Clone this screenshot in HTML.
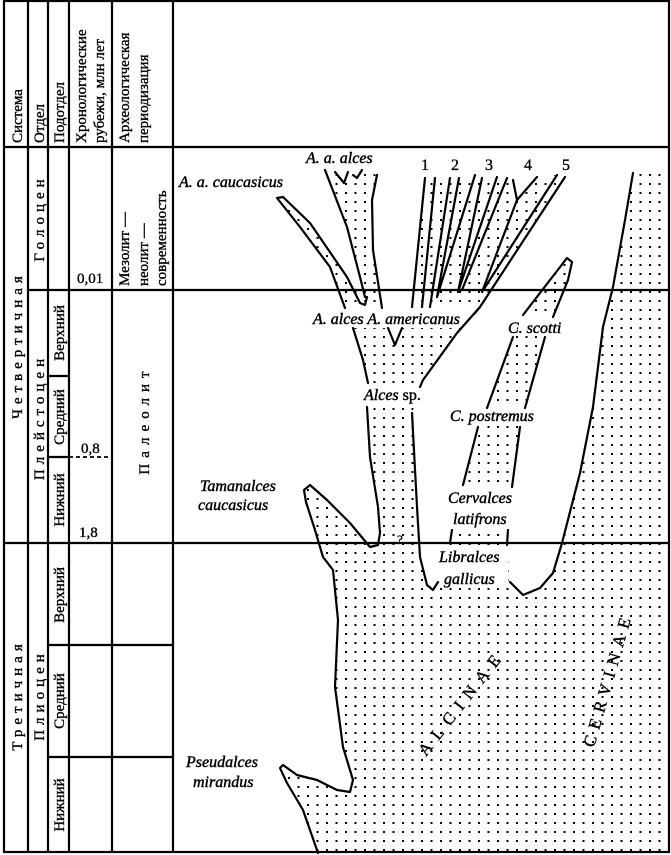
<!DOCTYPE html>
<html><head><meta charset="utf-8"><style>
html,body{margin:0;padding:0;background:#fff}
svg{display:block}
.s{font-family:"Liberation Serif","DejaVu Serif",serif;fill:#000;stroke:#000;stroke-width:0.35}
.i{font-family:"Liberation Serif",serif;font-style:italic;font-size:16px;fill:#000;stroke:#000;stroke-width:0.45}
.l{fill:none;stroke:#000;stroke-width:2.2;stroke-linejoin:round;stroke-linecap:round}
</style></head><body>
<svg width="671" height="855" viewBox="0 0 671 855" xmlns="http://www.w3.org/2000/svg">
<defs>
<pattern id="d" width="9.5" height="9" patternUnits="userSpaceOnUse"><rect x="3" y="3" width="2" height="2" fill="#000"/></pattern>
</defs>
<rect width="671" height="855" fill="#fff"/>
<g fill="url(#d)">
<path d="M367,407 L370,457 L378,507 L380,533 L378,545 L370,547 L350,523 L327,500 L310,485 L304,490 L306,502 L315,530 L323,557 L333,570 L338,620 L335,687 L343,747 L353,780 L350,792 L337,790 L317,780 L297,775 L283,765 L280,768 L287,783 L303,810 L318,853 L669,853 L669,173 L633,173 L625,220 L613,287 L603,327 L593,407 L580,473 L562,543 L553,573 L540,588 L523,595 L510,585 L507,545 L512,487 L525,408 L545,337 L553,317 L568,280 L572,262 L567,258 L550,280 L523,315 L513,337 L487,408 L463,485 L450,543 L435,583 L427,585 L420,557 L417,507 L412,413 L423,380 L457,333 L480,307 L565,177 L557,175 L537,177 L517,200 L513,177 L497,177 L482,178 L459,178 L450,178 L435,178 L425,178 L412,307 L402,328 L395,345 L388,328 L382,308 L373,250 L372,200 L377,175 L362,170 L357,178 L353,175 L348,172 L344,183 L335,172 L325,170 L347,227 L360,277 L365,305 L357,303 L353,328 L363,360 L368,383 Z"/>
<path d="M277,198 L300,227 L330,267 L345,308 L360,303 L365,305 L347,277 L310,223 L283,197 Z"/>
</g>
<g fill="#fff">
<rect x="312" y="306" width="186" height="22"/>
<rect x="364" y="384" width="70" height="20"/>
<rect x="450" y="405" width="102" height="20"/>
<rect x="446" y="487" width="82" height="42"/>
<rect x="438" y="546" width="70" height="40"/>
<rect x="518" y="313" width="56" height="22"/>
<rect x="412" y="636" width="108" height="124" transform="rotate(-52 466 698)" opacity="0"/>
</g>
<g stroke="#000" stroke-width="2.2" fill="none">
<rect x="4" y="1" width="665" height="851"/>
<line x1="28" y1="1" x2="28" y2="852"/>
<line x1="48" y1="1" x2="48" y2="852"/>
<line x1="69" y1="1" x2="69" y2="852"/>
<line x1="112" y1="1" x2="112" y2="852"/>
<line x1="173" y1="1" x2="173" y2="852"/>
<line x1="4" y1="147" x2="669" y2="147"/>
<line x1="28" y1="290" x2="669" y2="290"/>
<line x1="4" y1="543" x2="669" y2="543"/>
<line x1="48" y1="376" x2="69" y2="376"/>
<line x1="48" y1="457" x2="69" y2="457"/>
<line x1="48" y1="645" x2="173" y2="645"/>
<line x1="48" y1="757" x2="173" y2="757"/>
</g>
<line x1="69" y1="457" x2="112" y2="457" stroke="#000" stroke-width="1.8" stroke-dasharray="4,3"/>
<g class="l">
<polyline points="633,173 625,220 613,287 603,327 593,407 580,473 562,543 553,573 540,588 523,595 510,582"/>
<polyline points="367,407 370,457 378,507 380,533 378,545 370,547 350,523 327,500 310,485 304,490 306,502 315,530 323,557 333,570 338,620 335,687 343,747 353,780 350,792 337,790 317,780 297,775 283,765 280,768 287,783 303,810 318,853"/>
<polyline points="412,413 417,507 420,557 427,585 433,590 438,582"/>
<polyline points="513,337 487,408"/><polyline points="545,337 525,408"/>
<polyline points="478,427 463,485"/><polyline points="520,427 512,487"/>
<polyline points="452,530 450,543"/><polyline points="508,530 507,545"/>
<polyline points="523,315 550,280 567,258 572,262 568,280 553,317"/>
<polyline points="353,328 363,360 368,383"/><polyline points="457,333 423,380 420,387"/>
<polyline points="388,328 395,345 402,328"/>
<polyline points="345,308 330,267 300,227 277,198 283,197 310,223 347,277 360,303 365,305 367,297"/>
<polyline points="325,170 347,227 360,277 365,297"/>
<polyline points="377,175 372,200 373,250 382,308"/>
<polyline points="335,172 344,183 348,172"/><polyline points="353,175 357,178 362,170"/>
<polyline points="425,178 412,307"/><polyline points="435,178 422,307"/>
<polyline points="450,178 430,307"/>
<polyline points="459,178 437,297 475,175"/>
<polyline points="482,178 458,292 497,177"/>
<polyline points="507,178 462,290"/>
<polyline points="513,180 517,200 537,177"/>
<polyline points="517,200 482,292 557,175"/>
<polyline points="565,177 480,307 475,313"/>
<polyline points="480,307 457,333"/>
</g>
<text class="i" x="306" y="163">A. a. alces</text>
<text class="i" x="179" y="187">A. a. caucasicus</text>
<g class="s" font-size="16"><text x="421" y="170">1</text><text x="451" y="170">2</text><text x="485" y="170">3</text><text x="524" y="170">4</text><text x="562" y="170">5</text></g>
<text class="i" x="313" y="324">A. alces A. americanus</text>
<text class="i" x="364" y="400">Alces <tspan font-style="normal">sp.</tspan></text>
<text class="i" x="508" y="333">C. scotti</text>
<text class="i" x="450" y="421">C. postremus</text>
<text class="i" x="448" y="503">Cervalces</text>
<text class="i" x="453" y="524">latifrons</text>
<text class="i" x="439" y="562">Libralces</text>
<text class="i" x="444" y="584">gallicus</text>
<text class="i" x="200" y="491">Tamanalces</text>
<text class="i" x="198" y="510">caucasicus</text>
<text class="s" x="397" y="544" font-size="13">?</text>
<text class="i" x="186" y="767">Pseudalces</text>
<text class="i" x="193" y="787">mirandus</text>
<text class="s" font-size="17" letter-spacing="8" transform="translate(426,757) rotate(-52)">ALCINAE</text>
<text class="s" font-size="17" letter-spacing="7" transform="translate(594,748) rotate(-74)">CERVINAE</text>
<g class="s" font-size="15">
<text transform="translate(22,143) rotate(-90)">Система</text>
<text transform="translate(44,143) rotate(-90)">Отдел</text>
<text transform="translate(64,143) rotate(-90)">Подотдел</text>
<text transform="translate(86,143) rotate(-90)">Хронологические</text>
<text transform="translate(104,143) rotate(-90)">рубежи,  млн лет</text>
<text transform="translate(129,143) rotate(-90)">Археологическая</text>
<text transform="translate(148,143) rotate(-90)">периодизация</text>
<text transform="translate(22,345) rotate(-90)" text-anchor="middle" letter-spacing="5">Четвертичная</text>
<text transform="translate(22,695) rotate(-90)" text-anchor="middle" letter-spacing="5">Третичная</text>
<text transform="translate(44,218) rotate(-90)" text-anchor="middle" letter-spacing="5">Голоцен</text>
<text transform="translate(44,417) rotate(-90)" text-anchor="middle" letter-spacing="5">Плейстоцен</text>
<text transform="translate(44,695) rotate(-90)" text-anchor="middle" letter-spacing="5">Плиоцен</text>
<text transform="translate(64,333) rotate(-90)" text-anchor="middle">Верхний</text>
<text transform="translate(64,417) rotate(-90)" text-anchor="middle">Средний</text>
<text transform="translate(64,500) rotate(-90)" text-anchor="middle">Нижний</text>
<text transform="translate(64,595) rotate(-90)" text-anchor="middle">Верхний</text>
<text transform="translate(64,701) rotate(-90)" text-anchor="middle">Средний</text>
<text transform="translate(64,805) rotate(-90)" text-anchor="middle">Нижний</text>
<text x="77" y="283">0,01</text>
<text x="81" y="453">0,8</text>
<text x="79" y="537">1,8</text>
<text transform="translate(129,286) rotate(-90)">Мезолит —</text>
<text transform="translate(148,286) rotate(-90)">неолит —</text>
<text transform="translate(166,286) rotate(-90)">современность</text>
<text transform="translate(149,420) rotate(-90)" text-anchor="middle" letter-spacing="6">Палеолит</text>
</g>
</svg>
</body></html>
